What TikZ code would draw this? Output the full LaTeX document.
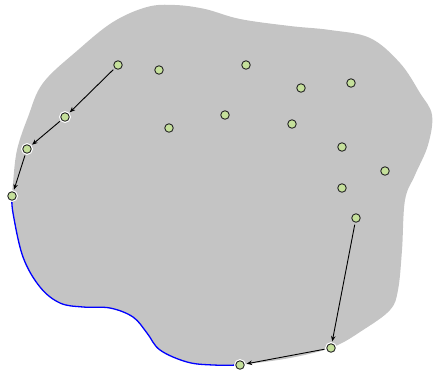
\documentclass[tikz,border=0pt]{standalone}
\usetikzlibrary{arrows.meta}
\definecolor{blobgray}{HTML}{C4C4C4}
\definecolor{dotgreen}{HTML}{C5E09B}
\tikzset{
  dot/.style={circle,draw=black!85,fill=dotgreen,line width=0.9pt,minimum size=8.5pt,inner sep=0pt},
  pathdot/.style={dot,preaction={draw=white,line width=3.2pt}},
  link/.style={-{Stealth[length=5.5pt,width=4.5pt]},line width=0.9pt,shorten >=2pt,shorten <=2pt},
  edgeline/.style={blue,line width=1.3pt}
}
\begin{document}
\begin{tikzpicture}[x=1pt,y=-1pt]
\useasboundingbox (0,0) rectangle (433,373);
% blob
\fill[blobgray] plot[smooth,tension=0.6] coordinates {(12,196) (13,213) (23,257) (40,287) (60,303) (83,307) (110,308) (133,317) (147,333) (160,350) (187,362) (213,365) (240,365)}
  -- plot[smooth,tension=0.6] coordinates {(240,365) (290,358) (333,347) (363,330) (390,310) (398,290) (402,250) (405,200) (415,175) (428,145) (432,115) (420,93) (400,63) (370,38) (330,30) (290,26) (240,19) (205,9) (175,5) (147,7) (113,22) (78,50) (43,83) (28,117) (17,150) (13,183) (12,196)} -- cycle;
\draw[edgeline] plot[smooth,tension=0.6] coordinates {(12,196) (13,213) (23,257) (40,287) (60,303) (83,307) (110,308) (133,317) (147,333) (160,350) (187,362) (213,365) (240,365)};
% nodes
\node[dot] (a) at (118,65) {};
\node[dot] (b) at (159,70) {};
\node[dot] (c) at (246,65) {};
\node[dot] (d) at (301,88) {};
\node[dot] (e) at (351,83) {};
\node[pathdot] (f) at (65,117) {};
\node[dot] (g) at (169,128) {};
\node[dot] (h) at (225,115) {};
\node[dot] (i) at (292,124) {};
\node[dot] (j) at (342,147) {};
\node[dot] (k) at (385,171) {};
\node[dot] (l) at (342,188) {};
\node[dot] (m) at (356,218) {};
\node[pathdot] (n) at (27,149) {};
\node[pathdot] (o) at (12,196) {};
\node[pathdot] (p) at (331,348) {};
\node[pathdot] (q) at (240,365) {};
% arrows
\draw[link] (a) -- (f);
\draw[link] (f) -- (n);
\draw[link] (n) -- (o);
\draw[link] (m) -- (p);
\draw[link] (p) -- (q);
\end{tikzpicture}
\end{document}
